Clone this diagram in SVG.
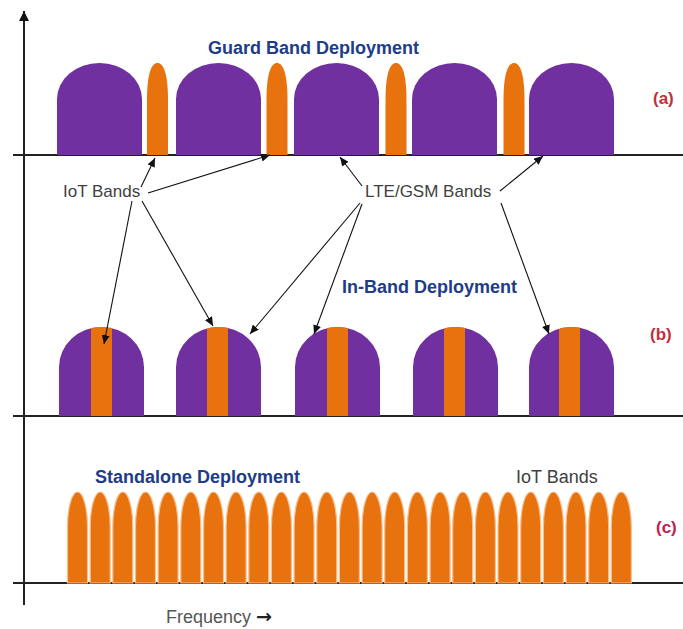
<svg xmlns="http://www.w3.org/2000/svg" width="683" height="629" viewBox="0 0 683 629">
<defs>
<style>
.base{stroke:#222;stroke-width:2;fill:none}
.pur{fill:#7030A0}
.org{fill:#E8730E}
.bump{fill:#E8730E;stroke:#F8BE8E;stroke-width:1.2}
.title{font-family:"Liberation Sans",Arial,sans-serif;font-weight:bold;font-size:18px;fill:#203C86}
.lbl{font-family:"Liberation Sans",Arial,sans-serif;font-size:17px;fill:#404040}
.tag{font-family:"Liberation Sans",Arial,sans-serif;font-weight:bold;font-size:17px;fill:#C0303A}
.con{stroke:#111;stroke-width:1.1;fill:none;marker-end:url(#ah)}
</style>
<marker id="ah" markerUnits="userSpaceOnUse" markerWidth="9" markerHeight="8" refX="9" refY="4" orient="auto">
<path d="M0,0 L9,4 L0,8 z" fill="#111"/>
</marker>
<marker id="axh" markerUnits="userSpaceOnUse" markerWidth="10" markerHeight="10" refX="10" refY="5" orient="auto">
<path d="M0,0 L10,5 L0,10 z" fill="#111"/>
</marker>
<clipPath id="cb1"><path d="M59,416 V367 A42.5,40 0 0 1 144,367 V416 Z"/></clipPath>
<clipPath id="cb2"><path d="M176,416 V367 A42.5,40 0 0 1 261,367 V416 Z"/></clipPath>
<clipPath id="cb3"><path d="M295,416 V367 A42.5,40 0 0 1 380,367 V416 Z"/></clipPath>
<clipPath id="cb4"><path d="M413,416 V367 A42.5,40 0 0 1 498,367 V416 Z"/></clipPath>
<clipPath id="cb5"><path d="M529,416 V367 A42.5,40 0 0 1 614,367 V416 Z"/></clipPath>
</defs>
<rect width="683" height="629" fill="#fff"/>

<g id="axes">
<line class="base" x1="24" y1="605" x2="24" y2="11" marker-end="url(#axh)"/>
<line class="base" x1="13" y1="155" x2="683" y2="155"/>
<line class="base" x1="13" y1="416" x2="683" y2="416"/>
<line class="base" x1="13" y1="583" x2="683" y2="583"/>
</g>

<g id="row-a">
<path class="pur" d="M57,155 V99 A42.5,36 0 0 1 142,99 V155 Z"/>
<path class="pur" d="M176,155 V99 A42.5,36 0 0 1 261,99 V155 Z"/>
<path class="pur" d="M294,155 V99 A42.5,36 0 0 1 379,99 V155 Z"/>
<path class="pur" d="M412,155 V99 A42.5,36 0 0 1 497,99 V155 Z"/>
<path class="pur" d="M529,155 V99 A42.5,36 0 0 1 614,99 V155 Z"/>
<path class="org" d="M147,155 V100 C147,72 152,63 157.5,63 C163,63 168,72 168,100 V155 Z"/>
<path class="org" d="M266.5,155 V100 C266.5,72 271.5,63 277,63 C282.5,63 287.5,72 287.5,100 V155 Z"/>
<path class="org" d="M385.5,155 V100 C385.5,72 390.5,63 396,63 C401.5,63 406.5,72 406.5,100 V155 Z"/>
<path class="org" d="M503.5,155 V100 C503.5,72 508.5,63 514,63 C519.5,63 524.5,72 524.5,100 V155 Z"/>
</g>

<g id="row-b">
<path class="pur" d="M59,416 V367 A42.5,40 0 0 1 144,367 V416 Z"/>
<rect class="org" x="91" y="320" width="21" height="96" clip-path="url(#cb1)"/>
<path class="pur" d="M176,416 V367 A42.5,40 0 0 1 261,367 V416 Z"/>
<rect class="org" x="207" y="320" width="21" height="96" clip-path="url(#cb2)"/>
<path class="pur" d="M295,416 V367 A42.5,40 0 0 1 380,367 V416 Z"/>
<rect class="org" x="327" y="320" width="21" height="96" clip-path="url(#cb3)"/>
<path class="pur" d="M413,416 V367 A42.5,40 0 0 1 498,367 V416 Z"/>
<rect class="org" x="444" y="320" width="21" height="96" clip-path="url(#cb4)"/>
<path class="pur" d="M529,416 V367 A42.5,40 0 0 1 614,367 V416 Z"/>
<rect class="org" x="559" y="320" width="21" height="96" clip-path="url(#cb5)"/>
</g>

<g id="row-c">
<path class="bump" d="M67.5,583 V527 A10,35 0 0 1 87.5,527 V583 Z"/>
<path class="bump" d="M90.2,583 V527 A10,35 0 0 1 110.2,527 V583 Z"/>
<path class="bump" d="M112.8,583 V527 A10,35 0 0 1 132.8,527 V583 Z"/>
<path class="bump" d="M135.5,583 V527 A10,35 0 0 1 155.5,527 V583 Z"/>
<path class="bump" d="M158.1,583 V527 A10,35 0 0 1 178.1,527 V583 Z"/>
<path class="bump" d="M180.8,583 V527 A10,35 0 0 1 200.8,527 V583 Z"/>
<path class="bump" d="M203.5,583 V527 A10,35 0 0 1 223.5,527 V583 Z"/>
<path class="bump" d="M226.1,583 V527 A10,35 0 0 1 246.1,527 V583 Z"/>
<path class="bump" d="M248.8,583 V527 A10,35 0 0 1 268.8,527 V583 Z"/>
<path class="bump" d="M271.4,583 V527 A10,35 0 0 1 291.4,527 V583 Z"/>
<path class="bump" d="M294.1,583 V527 A10,35 0 0 1 314.1,527 V583 Z"/>
<path class="bump" d="M316.8,583 V527 A10,35 0 0 1 336.8,527 V583 Z"/>
<path class="bump" d="M339.4,583 V527 A10,35 0 0 1 359.4,527 V583 Z"/>
<path class="bump" d="M362.1,583 V527 A10,35 0 0 1 382.1,527 V583 Z"/>
<path class="bump" d="M384.7,583 V527 A10,35 0 0 1 404.7,527 V583 Z"/>
<path class="bump" d="M407.4,583 V527 A10,35 0 0 1 427.4,527 V583 Z"/>
<path class="bump" d="M430.1,583 V527 A10,35 0 0 1 450.1,527 V583 Z"/>
<path class="bump" d="M452.7,583 V527 A10,35 0 0 1 472.7,527 V583 Z"/>
<path class="bump" d="M475.4,583 V527 A10,35 0 0 1 495.4,527 V583 Z"/>
<path class="bump" d="M498.0,583 V527 A10,35 0 0 1 518.0,527 V583 Z"/>
<path class="bump" d="M520.7,583 V527 A10,35 0 0 1 540.7,527 V583 Z"/>
<path class="bump" d="M543.4,583 V527 A10,35 0 0 1 563.4,527 V583 Z"/>
<path class="bump" d="M566.0,583 V527 A10,35 0 0 1 586.0,527 V583 Z"/>
<path class="bump" d="M588.7,583 V527 A10,35 0 0 1 608.7,527 V583 Z"/>
<path class="bump" d="M611.3,583 V527 A10,35 0 0 1 631.3,527 V583 Z"/>
</g>

<g id="connectors">
<line class="con" x1="141" y1="187" x2="155" y2="158"/>
<line class="con" x1="148" y1="193" x2="270" y2="155"/>
<line class="con" x1="132" y1="201" x2="104" y2="344"/>
<line class="con" x1="142" y1="201" x2="213" y2="326"/>
<line class="con" x1="362" y1="186" x2="340" y2="157"/>
<line class="con" x1="500" y1="191" x2="543" y2="156"/>
<line class="con" x1="360" y1="203" x2="250" y2="334"/>
<line class="con" x1="362" y1="204" x2="314" y2="334"/>
<line class="con" x1="501" y1="203" x2="549" y2="334"/>
</g>

<g id="labels">
<text class="title" x="208" y="54">Guard Band Deployment</text>
<text class="lbl" x="63" y="197">IoT Bands</text>
<text class="lbl" x="365" y="197">LTE/GSM Bands</text>
<text class="title" x="342" y="293">In-Band Deployment</text>
<text class="title" x="95" y="483">Standalone Deployment</text>
<text class="lbl" x="516" y="483" style="font-size:18px">IoT Bands</text>
<text class="tag" x="653" y="104">(a)</text>
<text class="tag" x="650" y="340">(b)</text>
<text class="tag" x="656" y="533" style="fill:#C02050">(c)</text>
<text class="lbl" x="166" y="623" style="font-size:18px;fill:#555">Frequency <tspan style="font-family:'DejaVu Sans',sans-serif;font-weight:bold;font-size:19px;fill:#222">→</tspan></text>
</g>
</svg>
